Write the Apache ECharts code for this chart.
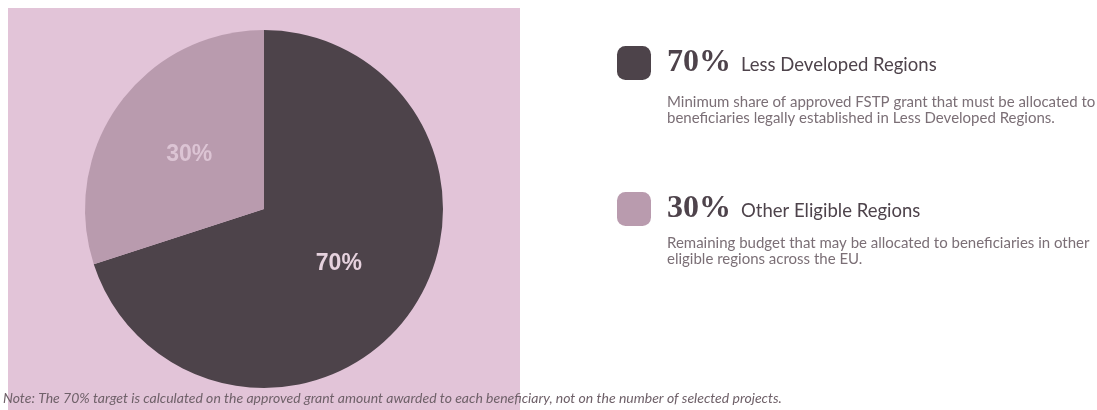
<!DOCTYPE html>
<html><head><meta charset="utf-8">
<script src="https://cdn.jsdelivr.net/npm/echarts@6/dist/echarts.min.js"></script>
<style>html,body{margin:0;padding:0;background:#fff}#c{width:1097px;height:410px}</style>
</head><body><div id="c"></div>
<script>
const categories = ['Less Developed Regions', 'Other Eligible Regions'];
const shares = [70, 30];
const descriptions = [
  ['Minimum share of approved FSTP grant that must be allocated to', 'beneficiaries legally established in Less Developed Regions.'],
  ['Remaining budget that may be allocated to beneficiaries in other', 'eligible regions across the EU.']
];
const note = 'Note: The 70% target is calculated on the approved grant amount awarded to each beneficiary, not on the number of selected projects.';

const sliceColors = ['#4d434a', '#b99bae'];
const labelColors = ['#e6d2de', '#dcc4d4'];
const descTop = [94, 235];

const chart = echarts.init(document.getElementById('c'));
const graphics = [{
  type: 'rect', z: -10, silent: true,
  shape: { x: 8, y: 8, width: 512, height: 402 },
  style: { fill: '#e2c4d8' }
}];
descriptions.forEach((lines, i) => {
  graphics.push({
    type: 'text', left: 667, top: descTop[i], silent: true,
    style: { text: lines.join('\n'), font: '15px Lato', fill: '#7b6f76', lineHeight: 16 }
  });
});

chart.setOption({
  backgroundColor: '#ffffff',
  animation: false,
  title: {
    text: note, left: 3, top: 391, padding: 0,
    textStyle: { fontFamily: 'Lato', fontStyle: 'italic', fontWeight: 'normal', fontSize: 14, color: '#6f6169' }
  },
  graphic: graphics,
  legend: {
    orient: 'vertical', left: 617, top: 46, padding: 0,
    itemWidth: 34, itemHeight: 34, itemGap: 112,
    icon: 'roundRect',
    selectedMode: false,
    data: categories,
    formatter: function (name) {
      const i = categories.indexOf(name);
      return '{p|' + shares[i] + '%}{n|' + name + '}';
    },
    textStyle: {
      padding: [0, 0, 0, 11],
      rich: {
        p: { fontFamily: 'Liberation Serif', fontWeight: 'bold', fontSize: 32, color: '#4e434b', padding: [0, 10, 0, 0] },
        n: { fontFamily: 'Lato', fontSize: 18.5, color: '#4e434b', padding: [4, 0, 0, 0] }
      }
    }
  },
  series: [{
    type: 'pie',
    center: [264, 209],
    radius: 179,
    startAngle: 90,
    clockwise: true,
    silent: true,
    label: {
      show: true, position: 'inside',
      formatter: '{c}%',
      fontFamily: 'Liberation Sans', fontWeight: 'bold', fontSize: 23
    },
    labelLine: { show: false },
    data: categories.map((c, i) => ({
      name: c, value: shares[i],
      itemStyle: { color: sliceColors[i] },
      label: { color: labelColors[i] }
    }))
  }]
});
</script></body></html>
